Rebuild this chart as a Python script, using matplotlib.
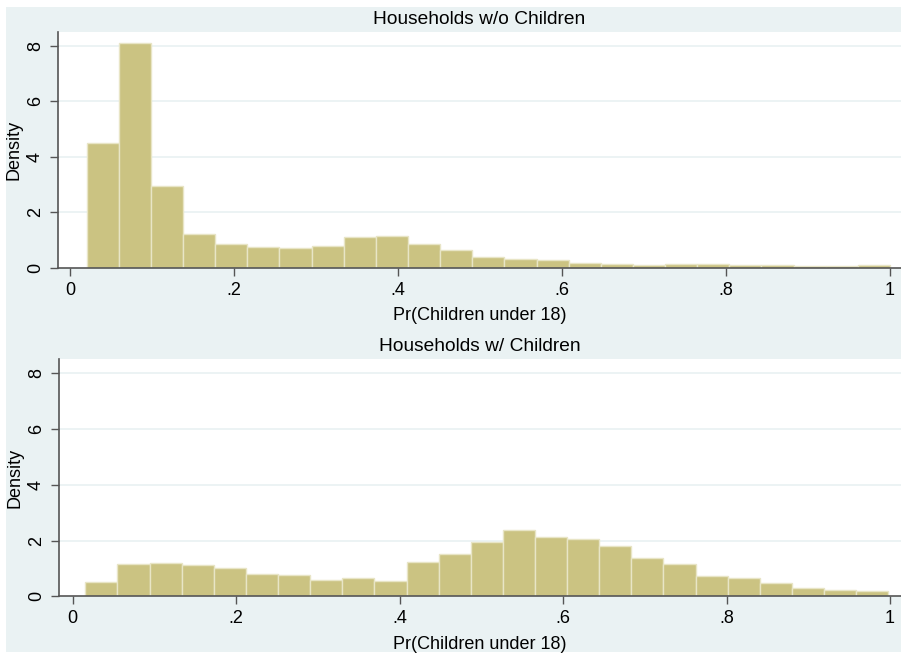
import matplotlib
matplotlib.use("Agg")
import matplotlib.pyplot as plt
from matplotlib.patches import Rectangle
import numpy as np

plt.rcParams['font.family'] = ['Liberation Sans', 'DejaVu Sans']

# ---- data ----
titles = ["Households w/o Children", "Households w/ Children"]
xlabel = "Pr(Children under 18)"
ylabel = "Density"
xticks = [0, 0.2, 0.4, 0.6, 0.8, 1.0]
xticklabels = ["0", ".2", ".4", ".6", ".8", "1"]
yticks = [0, 2, 4, 6, 8]
yticklabels = ["0", "2", "4", "6", "8"]

# top panel: households without children
wo_bin_start = 0.020
wo_bin_width = 0.0392
wo_density = [4.51, 8.09, 2.93, 1.21, 0.86, 0.76, 0.71, 0.78, 1.10, 1.14,
              0.84, 0.65, 0.38, 0.32, 0.27, 0.18, 0.15, 0.11, 0.15, 0.12,
              0.09, 0.08, 0.07, 0.05, 0.08]

# bottom panel: households with children
w_bin_start = 0.0155
w_bin_width = 0.0393
w_density = [0.50, 1.15, 1.19, 1.13, 1.02, 0.80, 0.78, 0.57, 0.65, 0.54,
             1.23, 1.53, 1.95, 2.36, 2.12, 2.06, 1.80, 1.39, 1.17, 0.74,
             0.65, 0.48, 0.30, 0.22, 0.18]

# ---- style ----
W, H = 901, 653
bg = '#EAF2F3'
bar_face = '#CBC382'
bar_edge = '#E8E5C6'
axis_col = '#555555'
grid_col = '#EAF2F3'
fs = 13.0
fs_title = 13.8

fig = plt.figure(figsize=(W / 100, H / 100), dpi=100, facecolor='white')
fig.patches.append(Rectangle((6 / W, 1 / H), (W - 6) / W, (H - 8) / H,
                             transform=fig.transFigure, facecolor=bg,
                             edgecolor='none', zorder=-10))

panels = [
    dict(rect=(58, 32, 901, 267.7), xlim=(-0.015, 1.0134),
         start=wo_bin_start, width=wo_bin_width, dens=wo_density, title=titles[0]),
    dict(rect=(58.7, 359.3, 901, 596.3), xlim=(-0.0171, 1.0135),
         start=w_bin_start, width=w_bin_width, dens=w_density, title=titles[1]),
]

for p in panels:
    x0, y0, x1, y1 = p['rect']
    ax = fig.add_axes([x0 / W, (H - y1) / H, (x1 - x0) / W, (y1 - y0) / H])
    ax.set_zorder(1)
    ax.set_facecolor('white')
    dens = np.array(p['dens'])
    edges = p['start'] + p['width'] * np.arange(len(dens))
    ax.bar(edges, dens, width=p['width'], align='edge', color=bar_face,
           edgecolor=bar_edge, linewidth=1.0, zorder=2)
    ax.set_xlim(*p['xlim'])
    ax.set_ylim(0, 8.5)
    ax.set_yticks(yticks)
    ax.set_yticklabels(yticklabels, rotation=90, va='center', fontsize=fs)
    ax.set_xticks(xticks)
    ax.set_xticklabels(xticklabels, fontsize=fs)
    for yv in yticks[1:]:
        ax.axhline(yv, color=grid_col, linewidth=1.3, zorder=1)
    for s in ['top', 'right']:
        ax.spines[s].set_visible(False)
    for s in ['left', 'bottom']:
        ax.spines[s].set_color(axis_col)
        ax.spines[s].set_linewidth(1.2)
    ax.tick_params(axis='both', colors=axis_col, labelcolor='black',
                   length=6, width=1.0, pad=4)
    ax.set_xlabel(xlabel, fontsize=fs, labelpad=6)
    ax.set_ylabel(ylabel, fontsize=fs, labelpad=3)
    ax.set_title(p['title'], fontsize=fs_title, pad=6)

fig.savefig('out.png', dpi=100, facecolor='white')
